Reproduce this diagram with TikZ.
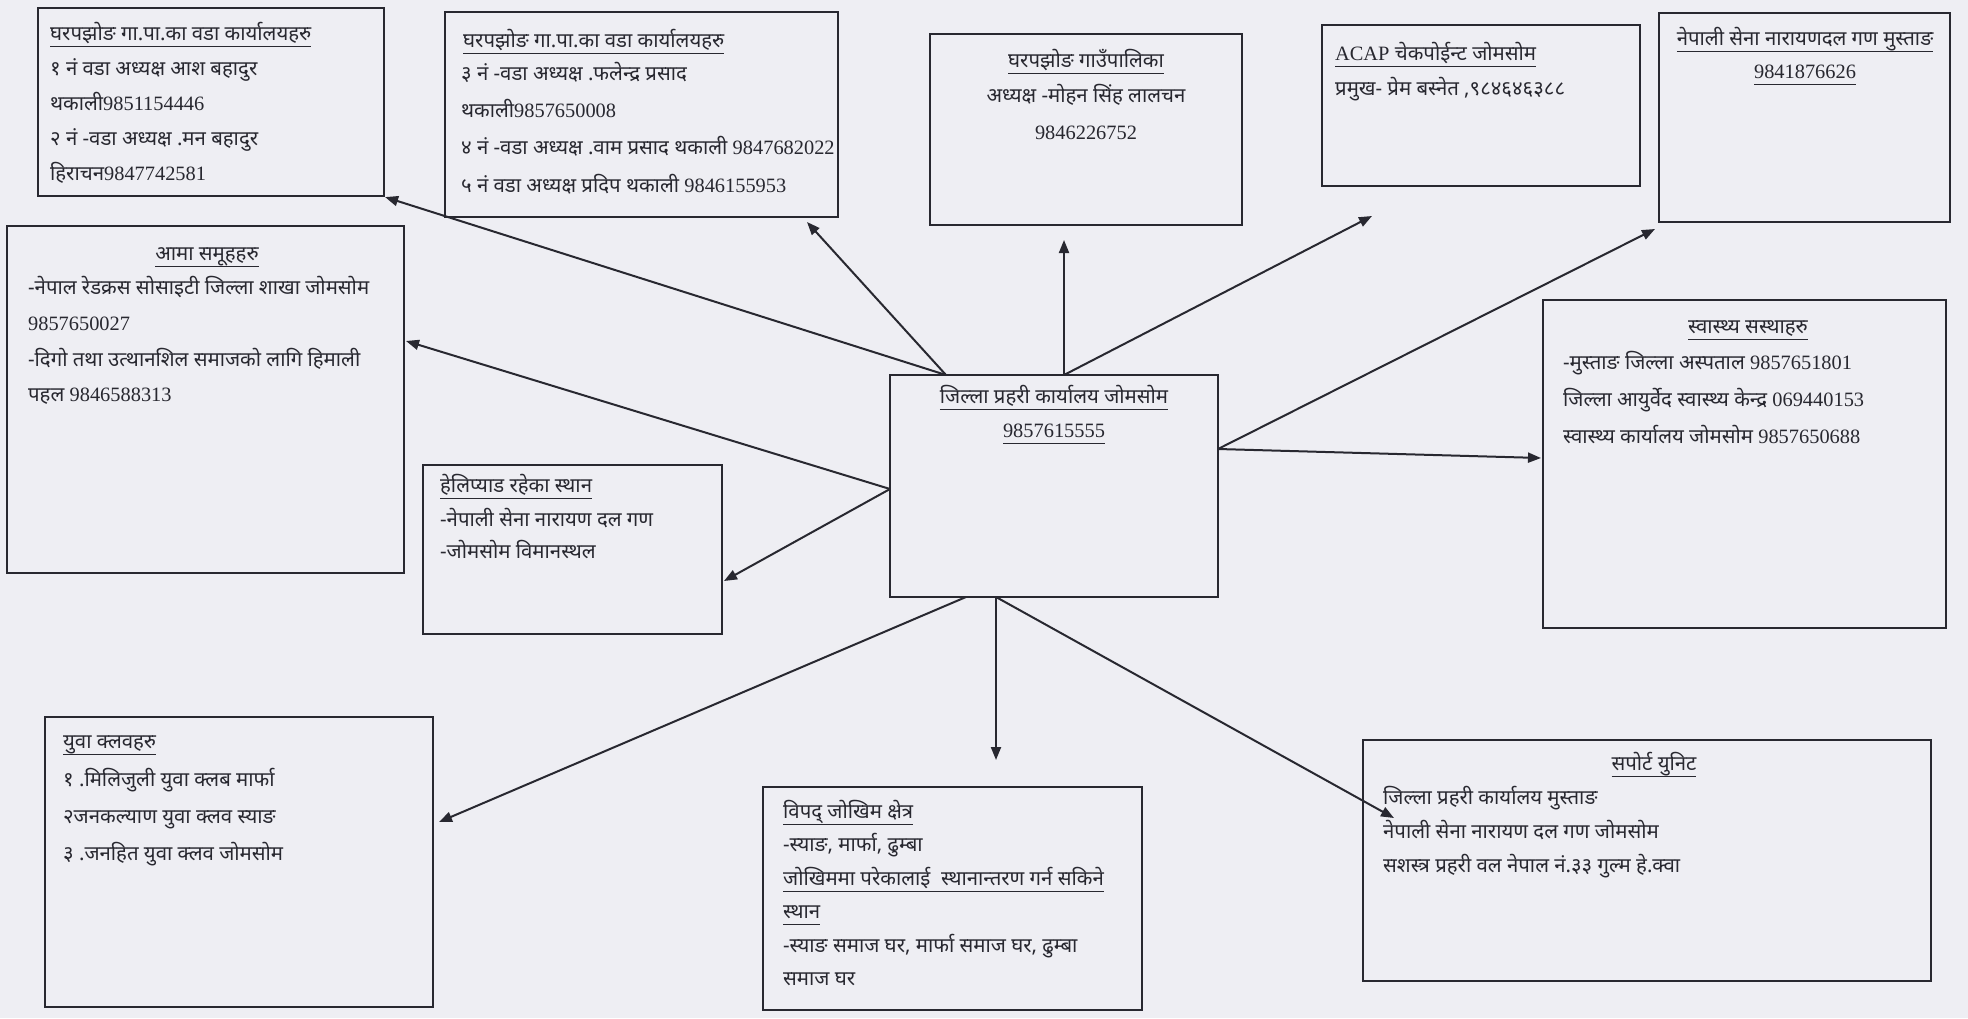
\documentclass[tikz,border=0pt]{standalone}
\usepackage{fontspec}
\setmainfont[Script=Devanagari]{Noto Sans}
\newfontfamily\enfont{Liberation Serif}
\newcommand{\en}[1]{{\enfont #1}}
\newcommand{\ul}[1]{\setbox0\hbox{#1}\dp0=0pt\vtop{\box0\kern 8pt\hrule height 1.8pt}}
\usetikzlibrary{arrows.meta,fit}
\definecolor{paper}{RGB}{238,238,243}
\definecolor{ink}{RGB}{40,40,48}
\tikzset{
  box/.style={draw=ink, line width=1.1mm, inner sep=0pt},
  txt/.style={font=\fontsize{29}{50}\selectfont, text=ink, inner sep=0pt},
  link/.style={-{Triangle[length=6.5mm,width=5mm]}, line width=1mm, draw=ink}
}
\begin{document}
\begin{tikzpicture}[x=0.5mm, y=-0.5mm]
\fill[paper] (0,0) rectangle (1968,1018);

% boxes
\node[box, fit={(38,8) (384,196)}] (b1) {};
\node[box, fit={(445,12) (838,217)}] (b2) {};
\node[box, fit={(930,34) (1242,225)}] (b3) {};
\node[box, fit={(1322,25) (1640,186)}] (b4) {};
\node[box, fit={(1659,13) (1950,222)}] (b5) {};
\node[box, fit={(7,226) (404,573)}] (b6) {};
\node[box, fit={(1543,300) (1946,628)}] (b7) {};
\node[box, fit={(890,375) (1218,597)}] (hq) {};
\node[box, fit={(423,465) (722,634)}] (b9) {};
\node[box, fit={(45,717) (433,1007)}] (b10) {};
\node[box, fit={(763,787) (1142,1010)}] (b11) {};
\node[box, fit={(1363,740) (1931,981)}] (b12) {};

% ward offices 1-2
\node[txt, anchor=base west] (h1) at (50,40) {\ul{घरपझोङ गा.पा.का वडा कार्यालयहरु}};
\foreach \l [count=\i] in {{१ नं वडा अध्यक्ष आश बहादुर}, {थकाली\en{9851154446}},
  {२ नं -वडा अध्यक्ष .मन बहादुर}, {हिराचन\en{9847742581}}}
  \node[txt, anchor=base west] (t1\i) at (50,40+35*\i) {\l};

% ward offices 3-5
\node[txt, anchor=base west] (h2) at (463,47) {\ul{घरपझोङ गा.पा.का वडा कार्यालयहरु}};
\foreach \l [count=\i] in {{३ नं -वडा अध्यक्ष .फलेन्द्र प्रसाद}, {थकाली\en{9857650008}},
  {४ नं -वडा अध्यक्ष .वाम प्रसाद थकाली \en{9847682022}}, {५ नं वडा अध्यक्ष प्रदिप थकाली \en{9846155953}}}
  \node[txt, anchor=base west] (t2\i) at (461,43+37.3*\i) {\l};

% rural municipality
\node[txt, anchor=base] (h3) at (1086,67) {\ul{घरपझोङ गाउँपालिका}};
\node[txt, anchor=base] (t31) at (1086,102) {अध्यक्ष -मोहन सिंह लालचन};
\node[txt, anchor=base] (t32) at (1086,139) {\en{9846226752}};

% ACAP
\node[txt, anchor=base west] (h4) at (1335,60) {\ul{\en{ACAP} चेकपोईन्ट जोमसोम}};
\node[txt, anchor=base west] (t41) at (1335,95) {प्रमुख- प्रेम बस्नेत ,९८४६४६३८८};

% army
\node[txt, anchor=base] (h5) at (1805,45) {\ul{नेपाली सेना नारायणदल गण मुस्ताङ}};
\node[txt, anchor=base] (t51) at (1805,78) {\ul{\en{9841876626}}};

% mothers groups
\node[txt, anchor=base] (h6) at (207,260) {\ul{आमा समूहहरु}};
\foreach \l [count=\i] in {{-नेपाल रेडक्रस सोसाइटी जिल्ला शाखा जोमसोम}, {\en{9857650027}},
  {-दिगो तथा उत्थानशिल समाजको लागि हिमाली}, {पहल \en{9846588313}}}
  \node[txt, anchor=base west] (t6\i) at (28,259+35.7*\i) {\l};

% health
\node[txt, anchor=base] (h7) at (1748,333) {\ul{स्वास्थ्य सस्थाहरु}};
\foreach \l [count=\i] in {{-मुस्ताङ जिल्ला अस्पताल \en{9857651801}},
  {जिल्ला आयुर्वेद स्वास्थ्य केन्द्र \en{069440153}}, {स्वास्थ्य कार्यालय जोमसोम \en{9857650688}}}
  \node[txt, anchor=base west] (t7\i) at (1563,332+37*\i) {\l};

% district police office
\node[txt, anchor=base] (h8) at (1054,403) {\ul{जिल्ला प्रहरी कार्यालय जोमसोम}};
\node[txt, anchor=base] (t81) at (1054,437) {\ul{\en{9857615555}}};

% helipad
\node[txt, anchor=base west] (h9) at (440,492) {\ul{हेलिप्याड रहेका स्थान}};
\foreach \l [count=\i] in {{-नेपाली सेना नारायण दल गण}, {-जोमसोम विमानस्थल}}
  \node[txt, anchor=base west] (t9\i) at (440,494+32*\i) {\l};

% youth clubs
\node[txt, anchor=base west] (h10) at (63,748) {\ul{युवा क्लवहरु}};
\foreach \l [count=\i] in {{१ .मिलिजुली युवा क्लब मार्फा}, {२जनकल्याण युवा क्लव स्याङ},
  {३ .जनहित युवा क्लव जोमसोम}}
  \node[txt, anchor=base west] (t10\i) at (63,749+37*\i) {\l};

% disaster risk
\node[txt, anchor=base west] (h11) at (783,818) {\ul{विपद् जोखिम क्षेत्र}};
\foreach \l [count=\i] in {{-स्याङ, मार्फा, ढुम्बा}, {\ul{जोखिममा परेकालाई\ \ स्थानान्तरण गर्न सकिने}},
  {\ul{स्थान}}, {-स्याङ समाज घर, मार्फा समाज घर, ढुम्बा}, {समाज घर}}
  \node[txt, anchor=base west] (t11\i) at (783,818+33.5*\i) {\l};

% support unit
\node[txt, anchor=base] (h12) at (1654,770) {\ul{सपोर्ट युनिट}};
\foreach \l [count=\i] in {{जिल्ला प्रहरी कार्यालय मुस्ताङ}, {नेपाली सेना नारायण दल गण जोमसोम},
  {सशस्त्र प्रहरी वल नेपाल नं.३३ गुल्म हे.क्वा}}
  \node[txt, anchor=base west] (t12\i) at (1383,770+34.3*\i) {\l};

% connectors
\coordinate (s1) at (946,375);
\coordinate (s2) at (1064,375);
\coordinate (s3) at (1218,449);
\coordinate (s4) at (890,489);
\coordinate (s5) at (966,597);
\coordinate (s6) at (996,597);
\coordinate (e2) at (807,222);
\coordinate (e3) at (1064,240);
\coordinate (e4) at (1372,216);
\coordinate (e5) at (1655,229);
\coordinate (e7) at (1541,458);
\coordinate (e6) at (406,341);
\coordinate (e9) at (724,581);
\coordinate (e10) at (439,822);
\coordinate (e11) at (996,760);
\coordinate (e12) at (1394,818);
\draw[link] (s1) -- (b1.south east);
\draw[link] (s1) -- (e2);
\draw[link] (s2) -- (e3);
\draw[link] (s2) -- (e4);
\draw[link] (s3) -- (e5);
\draw[link] (s3) -- (e7);
\draw[link] (s4) -- (e6);
\draw[link] (s4) -- (e9);
\draw[link] (s5) -- (e10);
\draw[link] (s6) -- (e11);
\draw[link] (s6) -- (e12);
\end{tikzpicture}
\end{document}
